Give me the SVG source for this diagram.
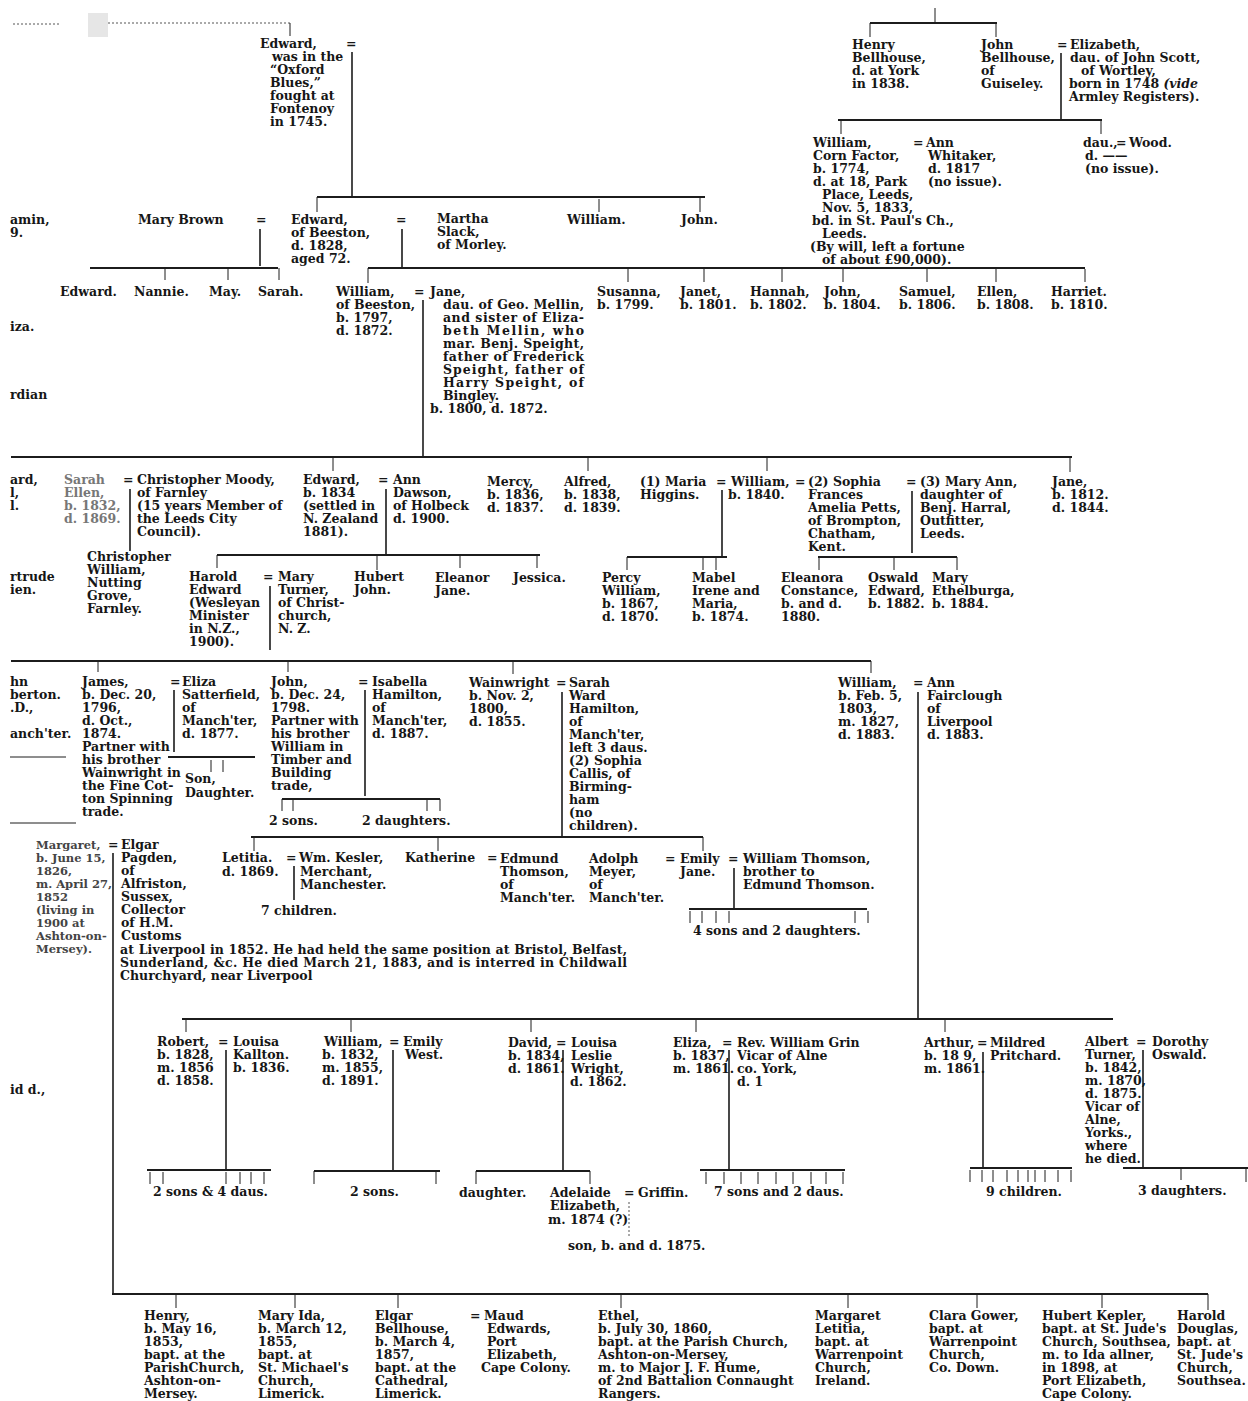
<svg xmlns="http://www.w3.org/2000/svg" width="1248" height="1401" viewBox="0 0 1248 1401">
<style>
text{font-family:"DejaVu Serif","Liberation Serif",serif;font-weight:bold;font-size:12.5px;fill:#161616}
.f{fill:#777}
.sm{font-size:11.5px;fill:#444}
.it{font-style:italic}
.h{stroke:#1c1c1c;stroke-width:2;fill:none}
.v{stroke:#1c1c1c;stroke-width:1.6;fill:none}
.k{stroke:#1c1c1c;stroke-width:1;fill:none}
.d{stroke:#555;stroke-width:1;fill:none;stroke-dasharray:2 2}
</style>
<rect width="1248" height="1401" fill="#fff"/>
<g id="connectors">
<path class="d" d="M13 24H60M88 23H290"/>
<rect x="88" y="13" width="20" height="24" fill="#e6e6e6"/>
<path class="k" d="M290 23V36"/>
<path class="v" d="M352 52V197"/>
<path class="h" d="M317 197H705"/>
<path class="k" d="M317 197V212M599 199V212M700 197V212"/>
<path class="v" d="M260 229V266M402 229V268"/>
<path class="h" d="M90 268H278M368 268H1085"/>
<path class="k" d="M165 268V280M228 268V280M279 268V280M368 268V283M628 269V282M704 269V282M782 269V282M843 269V282M927 269V282M996 269V282M1085 269V282"/>
<path class="k" d="M935 8V23M870 23V37M996 23V37"/>
<path class="h" d="M870 23H997"/>
<path class="v" d="M1061 53V120"/>
<path class="h" d="M838 120H1102"/>
<path class="k" d="M841 120V134M1101 120V134"/>
<path class="v" d="M423 300V457"/>
<path class="h" d="M11 457H1072"/>
<path class="k" d="M333 457V471M588 457V471M767 457V471M1070 457V472"/>
<path class="v" d="M130 489V551M386 489V555M722 490V557M912 491V553M270 586V650"/>
<path class="h" d="M217 555H540M627 557H727M818 557H957"/>
<path class="k" d="M217 555V568M377 555V570M460 555V568M537 555V568M627 557V570M703 557V570M716 557V570M819 557V570M894 557V570M957 557V570"/>
<path class="h" d="M11 661H871"/>
<path class="k" d="M98 661V672M288 661V672M513 661V674M871 661V673"/>
<path class="k" d="M10 757H66M10 823H76"/>
<path class="v" d="M174 690V752M365 690V796M562 692V837M918 692V1019"/>
<path class="h" d="M168 757H255M282 799H440M251 837H703"/>
<path class="k" d="M211 760V772M223 760V772M282 799V811M293 799V811M427 799V811M440 799V811M254 837V851M438 837V851M703 837V851"/>
<path class="v" d="M113 853V1294M294 866V900M734 868V908"/>
<path class="h" d="M689 909H867"/>
<path class="k" d="M690 911V923M702 911V923M716 911V923M729 911V923M855 911V923M868 911V923"/>
<path class="h" d="M182 1019H1113"/>
<path class="k" d="M186 1019V1032M351 1019V1032M531 1019V1032M696 1019V1032M945 1019V1032"/>
<path class="v" d="M226 1050V1170M393 1050V1171M563 1050V1171M729 1050V1170M983 1052V1168M1143 1050V1168"/>
<path class="h" d="M147 1170H271M314 1171H440M476 1171H590M700 1170H845M970 1168H1072M1123 1168H1248"/>
<path class="k" d="M150 1172V1184M163 1172V1184M226 1172V1184M240 1172V1184M251 1172V1184M264 1172V1184M314 1171V1184M436 1171V1184M476 1171V1184M590 1171V1184M706 1172V1184M724 1172V1184M741 1172V1184M758 1172V1184M776 1172V1184M793 1172V1184M811 1172V1184M826 1172V1184M843 1172V1184M970 1170V1182M982 1170V1182M993 1170V1182M1007 1170V1182M1018 1170V1182M1028 1170V1182M1035 1170V1182M1045 1170V1182M1058 1170V1182M1071 1170V1182M1181 1168V1180M1246 1168V1182"/>
<path class="d" d="M629 1202V1236"/>
<path class="h" d="M112 1294H1208"/>
<path class="k" d="M176 1294V1308M295 1294V1308M398 1294V1308M621 1294V1308M848 1294V1308M977 1294V1308M1102 1294V1308M1208 1294V1310"/>
</g>
<g id="edges-left">
<text x="10" y="224">amin,</text><text x="10" y="237">9.</text>
<text x="10" y="331">iza.</text>
<text x="10" y="399">rdian</text>
<text x="10" y="484">ard,</text><text x="10" y="497">l,</text><text x="10" y="510">l.</text>
<text x="10" y="581">rtrude</text><text x="10" y="594">ien.</text>
<text x="10" y="686">hn</text><text x="10" y="699">berton.</text><text x="10" y="712">.D.,</text><text x="10" y="738">anch'ter.</text>
<text x="10" y="1094">id d.,</text>
</g>
<g id="edward-1745"><text><tspan x="260" y="48">Edward,</tspan><tspan x="346" y="48">=</tspan><tspan x="272" y="61">was in the</tspan><tspan x="270" y="74">“Oxford</tspan><tspan x="270" y="87">Blues,”</tspan><tspan x="270" y="100">fought at</tspan><tspan x="270" y="113">Fontenoy</tspan><tspan x="270" y="126">in 1745.</tspan></text></g>
<g id="henry-bellhouse"><text><tspan x="852" y="49">Henry</tspan><tspan x="852" y="62">Bellhouse,</tspan><tspan x="852" y="75">d. at York</tspan><tspan x="852" y="88">in 1838.</tspan></text></g>
<g id="john-bellhouse"><text><tspan x="981" y="49">John</tspan><tspan x="981" y="62">Bellhouse,</tspan><tspan x="981" y="75">of</tspan><tspan x="981" y="88">Guiseley.</tspan></text></g>
<g id="elizabeth-scott"><text><tspan x="1057" y="49">=</tspan><tspan x="1070" y="49">Elizabeth,</tspan><tspan x="1070" y="62">dau. of John Scott,</tspan><tspan x="1081" y="75">of Wortley,</tspan><tspan x="1069" y="88">born in 1748 <tspan class="it">(vide</tspan></tspan><tspan x="1069" y="101">Armley Registers).</tspan></text></g>
<g id="william-corn-factor"><text><tspan x="813" y="147">William,</tspan><tspan x="813" y="160">Corn Factor,</tspan><tspan x="813" y="173">b. 1774,</tspan><tspan x="813" y="186">d. at 18, Park</tspan><tspan x="822" y="199">Place, Leeds,</tspan><tspan x="822" y="212">Nov. 5, 1833,</tspan><tspan x="812" y="225">bd. in St. Paul's Ch.,</tspan><tspan x="822" y="238">Leeds.</tspan><tspan x="810" y="251">(By will, left a fortune</tspan><tspan x="822" y="264">of about £90,000).</tspan></text></g>
<g id="ann-whitaker"><text><tspan x="913" y="147">=</tspan><tspan x="926" y="147">Ann</tspan><tspan x="928" y="160">Whitaker,</tspan><tspan x="928" y="173">d. 1817</tspan><tspan x="928" y="186">(no issue).</tspan></text></g>
<g id="dau-wood"><text><tspan x="1083" y="147">dau.,</tspan><tspan x="1116" y="147">=</tspan><tspan x="1129" y="147">Wood.</tspan><tspan x="1085" y="160">d. ——</tspan><tspan x="1085" y="173">(no issue).</tspan></text></g>
<g id="mary-brown"><text><tspan x="138" y="224">Mary Brown</tspan><tspan x="256" y="224">=</tspan></text></g>
<g id="edward-beeston"><text><tspan x="291" y="224">Edward,</tspan><tspan x="291" y="237">of Beeston,</tspan><tspan x="291" y="250">d. 1828,</tspan><tspan x="291" y="263">aged 72.</tspan><tspan x="396" y="224">=</tspan></text></g>
<g id="martha-slack"><text><tspan x="437" y="223">Martha</tspan><tspan x="437" y="236">Slack,</tspan><tspan x="437" y="249">of Morley.</tspan></text></g>
<g id="william-2"><text x="567" y="224">William.</text></g>
<g id="john-2"><text x="681" y="224">John.</text></g>
<g id="edward-3"><text x="60" y="296">Edward.</text></g>
<g id="nannie"><text x="134" y="296">Nannie.</text></g>
<g id="may"><text x="209" y="296">May.</text></g>
<g id="sarah-3"><text x="258" y="296">Sarah.</text></g>
<g id="william-beeston"><text><tspan x="336" y="296">William,</tspan><tspan x="336" y="309">of Beeston,</tspan><tspan x="336" y="322">b. 1797,</tspan><tspan x="336" y="335">d. 1872.</tspan></text></g>
<g id="jane-mellin">
<text><tspan x="414" y="296">=</tspan><tspan x="430" y="296">Jane,</tspan></text>
<text x="443" y="309" textLength="141" lengthAdjust="spacing">dau. of Geo. Mellin,</text>
<text x="443" y="322" textLength="141" lengthAdjust="spacing">and sister of Eliza-</text>
<text x="443" y="335" textLength="141" lengthAdjust="spacing">beth Mellin, who</text>
<text x="443" y="348" textLength="141" lengthAdjust="spacing">mar. Benj. Speight,</text>
<text x="443" y="361" textLength="141" lengthAdjust="spacing">father of Frederick</text>
<text x="443" y="374" textLength="141" lengthAdjust="spacing">Speight, father of</text>
<text x="443" y="387" textLength="141" lengthAdjust="spacing">Harry Speight, of</text>
<text x="443" y="400">Bingley.</text>
<text x="430" y="413">b. 1800, d. 1872.</text>
</g>
<g id="susanna"><text><tspan x="597" y="296">Susanna,</tspan><tspan x="597" y="309">b. 1799.</tspan></text></g>
<g id="janet"><text><tspan x="680" y="296">Janet,</tspan><tspan x="680" y="309">b. 1801.</tspan></text></g>
<g id="hannah"><text><tspan x="750" y="296">Hannah,</tspan><tspan x="750" y="309">b. 1802.</tspan></text></g>
<g id="john-3"><text><tspan x="824" y="296">John,</tspan><tspan x="824" y="309">b. 1804.</tspan></text></g>
<g id="samuel"><text><tspan x="899" y="296">Samuel,</tspan><tspan x="899" y="309">b. 1806.</tspan></text></g>
<g id="ellen"><text><tspan x="977" y="296">Ellen,</tspan><tspan x="977" y="309">b. 1808.</tspan></text></g>
<g id="harriet"><text><tspan x="1051" y="296">Harriet.</tspan><tspan x="1051" y="309">b. 1810.</tspan></text></g>
<g id="sarah-ellen"><text class="f"><tspan x="64" y="484">Sarah</tspan><tspan x="64" y="497">Ellen,</tspan><tspan x="64" y="510">b. 1832,</tspan><tspan x="64" y="523">d. 1869.</tspan></text></g>
<g id="christopher-moody"><text><tspan x="123" y="484">=</tspan><tspan x="137" y="484">Christopher Moody,</tspan><tspan x="137" y="497">of Farnley</tspan><tspan x="137" y="510">(15 years Member of</tspan><tspan x="137" y="523">the Leeds City</tspan><tspan x="137" y="536">Council).</tspan></text></g>
<g id="christopher-william"><text><tspan x="87" y="561">Christopher</tspan><tspan x="87" y="574">William,</tspan><tspan x="87" y="587">Nutting</tspan><tspan x="87" y="600">Grove,</tspan><tspan x="87" y="613">Farnley.</tspan></text></g>
<g id="edward-1834"><text><tspan x="303" y="484">Edward,</tspan><tspan x="303" y="497">b. 1834</tspan><tspan x="303" y="510">(settled in</tspan><tspan x="303" y="523">N. Zealand</tspan><tspan x="303" y="536">1881).</tspan></text></g>
<g id="ann-dawson"><text><tspan x="378" y="484">=</tspan><tspan x="393" y="484">Ann</tspan><tspan x="393" y="497">Dawson,</tspan><tspan x="393" y="510">of Holbeck</tspan><tspan x="393" y="523">d. 1900.</tspan></text></g>
<g id="mercy"><text><tspan x="487" y="486">Mercy,</tspan><tspan x="487" y="499">b. 1836,</tspan><tspan x="487" y="512">d. 1837.</tspan></text></g>
<g id="alfred"><text><tspan x="564" y="486">Alfred,</tspan><tspan x="564" y="499">b. 1838,</tspan><tspan x="564" y="512">d. 1839.</tspan></text></g>
<g id="maria-higgins"><text><tspan x="640" y="486">(1) Maria</tspan><tspan x="640" y="499">Higgins.</tspan></text></g>
<g id="william-1840"><text><tspan x="716" y="486">=</tspan><tspan x="731" y="486">William,</tspan><tspan x="795" y="486">=</tspan><tspan x="728" y="499">b. 1840.</tspan></text></g>
<g id="sophia-petts"><text><tspan x="808" y="486">(2) Sophia</tspan><tspan x="808" y="499">Frances</tspan><tspan x="808" y="512">Amelia Petts,</tspan><tspan x="808" y="525">of Brompton,</tspan><tspan x="808" y="538">Chatham,</tspan><tspan x="808" y="551">Kent.</tspan></text></g>
<g id="mary-ann-harral"><text><tspan x="906" y="486">=</tspan><tspan x="920" y="486">(3) Mary Ann,</tspan><tspan x="920" y="499">daughter of</tspan><tspan x="920" y="512">Benj. Harral,</tspan><tspan x="920" y="525">Outfitter,</tspan><tspan x="920" y="538">Leeds.</tspan></text></g>
<g id="jane-1812"><text><tspan x="1052" y="486">Jane,</tspan><tspan x="1052" y="499">b. 1812.</tspan><tspan x="1052" y="512">d. 1844.</tspan></text></g>
<g id="harold-edward"><text><tspan x="189" y="581">Harold</tspan><tspan x="189" y="594">Edward</tspan><tspan x="189" y="607">(Wesleyan</tspan><tspan x="189" y="620">Minister</tspan><tspan x="189" y="633">in N.Z.,</tspan><tspan x="189" y="646">1900).</tspan></text></g>
<g id="mary-turner"><text><tspan x="263" y="581">=</tspan><tspan x="278" y="581">Mary</tspan><tspan x="278" y="594">Turner,</tspan><tspan x="278" y="607">of Christ-</tspan><tspan x="278" y="620">church,</tspan><tspan x="278" y="633">N. Z.</tspan></text></g>
<g id="hubert-john"><text><tspan x="354" y="581">Hubert</tspan><tspan x="354" y="594">John.</tspan></text></g>
<g id="eleanor-jane"><text><tspan x="435" y="582">Eleanor</tspan><tspan x="435" y="595">Jane.</tspan></text></g>
<g id="jessica"><text x="513" y="582">Jessica.</text></g>
<g id="percy-william"><text><tspan x="602" y="582">Percy</tspan><tspan x="602" y="595">William,</tspan><tspan x="602" y="608">b. 1867,</tspan><tspan x="602" y="621">d. 1870.</tspan></text></g>
<g id="mabel-maria"><text><tspan x="692" y="582">Mabel</tspan><tspan x="692" y="595">Irene and</tspan><tspan x="692" y="608">Maria,</tspan><tspan x="692" y="621">b. 1874.</tspan></text></g>
<g id="eleanora"><text><tspan x="781" y="582">Eleanora</tspan><tspan x="781" y="595">Constance,</tspan><tspan x="781" y="608">b. and d.</tspan><tspan x="781" y="621">1880.</tspan></text></g>
<g id="oswald-edward"><text><tspan x="868" y="582">Oswald</tspan><tspan x="868" y="595">Edward,</tspan><tspan x="868" y="608">b. 1882.</tspan></text></g>
<g id="mary-ethelburga"><text><tspan x="932" y="582">Mary</tspan><tspan x="932" y="595">Ethelburga,</tspan><tspan x="932" y="608">b. 1884.</tspan></text></g>
<g id="james"><text><tspan x="82" y="686">James,</tspan><tspan x="82" y="699">b. Dec. 20,</tspan><tspan x="82" y="712">1796,</tspan><tspan x="82" y="725">d. Oct.,</tspan><tspan x="82" y="738">1874.</tspan><tspan x="82" y="751">Partner with</tspan><tspan x="82" y="764">his brother</tspan><tspan x="82" y="777">Wainwright in</tspan><tspan x="82" y="790">the Fine Cot-</tspan><tspan x="82" y="803">ton Spinning</tspan><tspan x="82" y="816">trade.</tspan></text></g>
<g id="eliza-satterfield"><text><tspan x="170" y="686">=</tspan><tspan x="182" y="686">Eliza</tspan><tspan x="182" y="699">Satterfield,</tspan><tspan x="182" y="712">of</tspan><tspan x="182" y="725">Manch'ter,</tspan><tspan x="182" y="738">d. 1877.</tspan></text></g>
<g id="son-daughter"><text><tspan x="185" y="783">Son,</tspan><tspan x="185" y="797">Daughter.</tspan></text></g>
<g id="john-1798"><text><tspan x="271" y="686">John,</tspan><tspan x="271" y="699">b. Dec. 24,</tspan><tspan x="271" y="712">1798.</tspan><tspan x="271" y="725">Partner with</tspan><tspan x="271" y="738">his brother</tspan><tspan x="271" y="751">William in</tspan><tspan x="271" y="764">Timber and</tspan><tspan x="271" y="777">Building</tspan><tspan x="271" y="790">trade,</tspan></text></g>
<g id="isabella-hamilton"><text><tspan x="358" y="686">=</tspan><tspan x="372" y="686">Isabella</tspan><tspan x="372" y="699">Hamilton,</tspan><tspan x="372" y="712">of</tspan><tspan x="372" y="725">Manch'ter,</tspan><tspan x="372" y="738">d. 1887.</tspan></text></g>
<g id="two-sons"><text x="269" y="825">2 sons.</text></g>
<g id="two-daughters"><text x="362" y="825">2 daughters.</text></g>
<g id="wainwright"><text><tspan x="469" y="687">Wainwright</tspan><tspan x="469" y="700">b. Nov. 2,</tspan><tspan x="469" y="713">1800,</tspan><tspan x="469" y="726">d. 1855.</tspan></text></g>
<g id="sarah-ward-hamilton"><text><tspan x="556" y="687">=</tspan><tspan x="569" y="687">Sarah</tspan><tspan x="569" y="700">Ward</tspan><tspan x="569" y="713">Hamilton,</tspan><tspan x="569" y="726">of</tspan><tspan x="569" y="739">Manch'ter,</tspan><tspan x="569" y="752">left 3 daus.</tspan><tspan x="569" y="765">(2) Sophia</tspan><tspan x="569" y="778">Callis, of</tspan><tspan x="569" y="791">Birming-</tspan><tspan x="569" y="804">ham</tspan><tspan x="569" y="817">(no</tspan><tspan x="569" y="830">children).</tspan></text></g>
<g id="william-1803"><text><tspan x="838" y="687">William,</tspan><tspan x="838" y="700">b. Feb. 5,</tspan><tspan x="838" y="713">1803,</tspan><tspan x="838" y="726">m. 1827,</tspan><tspan x="838" y="739">d. 1883.</tspan></text></g>
<g id="ann-fairclough"><text><tspan x="913" y="687">=</tspan><tspan x="927" y="687">Ann</tspan><tspan x="927" y="700">Fairclough</tspan><tspan x="927" y="713">of</tspan><tspan x="927" y="726">Liverpool</tspan><tspan x="927" y="739">d. 1883.</tspan></text></g>
<g id="margaret-1826"><text class="sm"><tspan x="36" y="849">Margaret,</tspan><tspan x="36" y="862">b. June 15,</tspan><tspan x="36" y="875">1826,</tspan><tspan x="36" y="888">m. April 27,</tspan><tspan x="36" y="901">1852</tspan><tspan x="36" y="914">(living in</tspan><tspan x="36" y="927">1900 at</tspan><tspan x="36" y="940">Ashton-on-</tspan><tspan x="36" y="953">Mersey).</tspan></text></g>
<g id="elgar-pagden">
<text><tspan x="108" y="849">=</tspan><tspan x="121" y="849">Elgar</tspan><tspan x="121" y="862">Pagden,</tspan><tspan x="121" y="875">of</tspan><tspan x="121" y="888">Alfriston,</tspan><tspan x="121" y="901">Sussex,</tspan><tspan x="121" y="914">Collector</tspan><tspan x="121" y="927">of H.M.</tspan><tspan x="121" y="940">Customs</tspan></text>
<text x="120" y="954" textLength="507" lengthAdjust="spacing">at Liverpool in 1852.  He had held the same position at Bristol, Belfast,</text>
<text x="120" y="967" textLength="507" lengthAdjust="spacing">Sunderland, &amp;c.  He died March 21, 1883, and is interred in Childwall</text>
<text x="120" y="980">Churchyard, near Liverpool</text>
</g>
<g id="letitia"><text><tspan x="222" y="862">Letitia.</tspan><tspan x="222" y="876">d. 1869.</tspan></text></g>
<g id="wm-kesler"><text><tspan x="286" y="862">=</tspan><tspan x="299" y="862">Wm. Kesler,</tspan><tspan x="300" y="876">Merchant,</tspan><tspan x="300" y="889">Manchester.</tspan></text></g>
<g id="seven-children"><text x="261" y="915">7 children.</text></g>
<g id="katherine"><text x="405" y="862">Katherine</text></g>
<g id="edmund-thomson"><text><tspan x="487" y="862">=</tspan><tspan x="500" y="863">Edmund</tspan><tspan x="500" y="876">Thomson,</tspan><tspan x="500" y="889">of</tspan><tspan x="500" y="902">Manch'ter.</tspan></text></g>
<g id="adolph-meyer"><text><tspan x="589" y="863">Adolph</tspan><tspan x="589" y="876">Meyer,</tspan><tspan x="589" y="889">of</tspan><tspan x="589" y="902">Manch'ter.</tspan></text></g>
<g id="emily-jane"><text><tspan x="665" y="863">=</tspan><tspan x="680" y="863">Emily</tspan><tspan x="680" y="876">Jane.</tspan></text></g>
<g id="william-thomson"><text><tspan x="728" y="863">=</tspan><tspan x="743" y="863">William Thomson,</tspan><tspan x="743" y="876">brother to</tspan><tspan x="743" y="889">Edmund Thomson.</tspan></text></g>
<g id="four-sons"><text x="693" y="935">4 sons and 2 daughters.</text></g>
<g id="robert"><text><tspan x="157" y="1046">Robert,</tspan><tspan x="157" y="1059">b. 1828,</tspan><tspan x="157" y="1072">m. 1856</tspan><tspan x="157" y="1085">d. 1858.</tspan></text></g>
<g id="louisa-kallton"><text><tspan x="218" y="1046">=</tspan><tspan x="233" y="1046">Louisa</tspan><tspan x="233" y="1059">Kallton.</tspan><tspan x="233" y="1072">b. 1836.</tspan></text></g>
<g id="robert-children"><text x="153" y="1196">2 sons &amp; 4 daus.</text></g>
<g id="william-1832"><text><tspan x="324" y="1046">William,</tspan><tspan x="322" y="1059">b. 1832,</tspan><tspan x="322" y="1072">m. 1855,</tspan><tspan x="322" y="1085">d. 1891.</tspan></text></g>
<g id="emily-west"><text><tspan x="389" y="1046">=</tspan><tspan x="403" y="1046">Emily</tspan><tspan x="405" y="1059">West.</tspan></text></g>
<g id="william-children"><text x="350" y="1196">2 sons.</text></g>
<g id="david"><text><tspan x="508" y="1047">David,</tspan><tspan x="508" y="1060">b. 1834,</tspan><tspan x="508" y="1073">d. 1861.</tspan></text></g>
<g id="louisa-wright"><text><tspan x="556" y="1047">=</tspan><tspan x="571" y="1047">Louisa</tspan><tspan x="571" y="1060">Leslie</tspan><tspan x="571" y="1073">Wright,</tspan><tspan x="570" y="1086">d. 1862.</tspan></text></g>
<g id="daughter"><text x="459" y="1197">daughter.</text></g>
<g id="adelaide"><text><tspan x="550" y="1197">Adelaide</tspan><tspan x="550" y="1210">Elizabeth,</tspan><tspan x="548" y="1224">m. 1874 (?)</tspan></text></g>
<g id="griffin"><text><tspan x="624" y="1197">=</tspan><tspan x="638" y="1197">Griffin.</tspan></text></g>
<g id="son-1875"><text x="568" y="1250">son, b. and d. 1875.</text></g>
<g id="eliza-1837"><text><tspan x="673" y="1047">Eliza,</tspan><tspan x="673" y="1060">b. 1837,</tspan><tspan x="673" y="1073">m. 1861.</tspan></text></g>
<g id="rev-william-grin"><text><tspan x="722" y="1047">=</tspan><tspan x="737" y="1047">Rev. William Grin</tspan><tspan x="737" y="1060">Vicar of Alne</tspan><tspan x="737" y="1073">co. York,</tspan><tspan x="737" y="1086">d. 1</tspan></text></g>
<g id="eliza-children"><text x="714" y="1196">7 sons and 2 daus.</text></g>
<g id="arthur"><text><tspan x="924" y="1047">Arthur,</tspan><tspan x="924" y="1060">b. 18 9,</tspan><tspan x="924" y="1073">m. 1861.</tspan></text></g>
<g id="mildred-pritchard"><text><tspan x="977" y="1047">=</tspan><tspan x="990" y="1047">Mildred</tspan><tspan x="990" y="1060">Pritchard.</tspan></text></g>
<g id="arthur-children"><text x="986" y="1196">9 children.</text></g>
<g id="albert-turner"><text><tspan x="1085" y="1046">Albert</tspan><tspan x="1085" y="1059">Turner,</tspan><tspan x="1085" y="1072">b. 1842,</tspan><tspan x="1085" y="1085">m. 1870,</tspan><tspan x="1085" y="1098">d. 1875.</tspan><tspan x="1085" y="1111">Vicar of</tspan><tspan x="1085" y="1124">Alne,</tspan><tspan x="1085" y="1137">Yorks.,</tspan><tspan x="1085" y="1150">where</tspan><tspan x="1085" y="1163">he died.</tspan></text></g>
<g id="dorothy-oswald"><text><tspan x="1136" y="1046">=</tspan><tspan x="1152" y="1046">Dorothy</tspan><tspan x="1152" y="1059">Oswald.</tspan></text></g>
<g id="albert-children"><text x="1138" y="1195">3 daughters.</text></g>
<g id="henry-1853"><text><tspan x="144" y="1320">Henry,</tspan><tspan x="144" y="1333">b. May 16,</tspan><tspan x="144" y="1346">1853,</tspan><tspan x="144" y="1359">bapt. at the</tspan><tspan x="144" y="1372">ParishChurch,</tspan><tspan x="144" y="1385">Ashton-on-</tspan><tspan x="144" y="1398">Mersey.</tspan></text></g>
<g id="mary-ida"><text><tspan x="258" y="1320">Mary Ida,</tspan><tspan x="258" y="1333">b. March 12,</tspan><tspan x="258" y="1346">1855,</tspan><tspan x="258" y="1359">bapt. at</tspan><tspan x="258" y="1372">St. Michael's</tspan><tspan x="258" y="1385">Church,</tspan><tspan x="258" y="1398">Limerick.</tspan></text></g>
<g id="elgar-bellhouse"><text><tspan x="375" y="1320">Elgar</tspan><tspan x="375" y="1333">Bellhouse,</tspan><tspan x="375" y="1346">b. March 4,</tspan><tspan x="375" y="1359">1857,</tspan><tspan x="375" y="1372">bapt. at the</tspan><tspan x="375" y="1385">Cathedral,</tspan><tspan x="375" y="1398">Limerick.</tspan></text></g>
<g id="maud-edwards"><text><tspan x="470" y="1320">=</tspan><tspan x="484" y="1320">Maud</tspan><tspan x="487" y="1333">Edwards,</tspan><tspan x="487" y="1346">Port</tspan><tspan x="487" y="1359">Elizabeth,</tspan><tspan x="481" y="1372">Cape Colony.</tspan></text></g>
<g id="ethel"><text><tspan x="598" y="1320">Ethel,</tspan><tspan x="598" y="1333">b. July 30, 1860,</tspan><tspan x="598" y="1346">bapt. at the Parish Church,</tspan><tspan x="598" y="1359">Ashton-on-Mersey,</tspan><tspan x="598" y="1372">m. to Major J. F. Hume,</tspan><tspan x="598" y="1385">of 2nd Battalion Connaught</tspan><tspan x="598" y="1398">Rangers.</tspan></text></g>
<g id="margaret-letitia"><text><tspan x="815" y="1320">Margaret</tspan><tspan x="815" y="1333">Letitia,</tspan><tspan x="815" y="1346">bapt. at</tspan><tspan x="815" y="1359">Warrenpoint</tspan><tspan x="815" y="1372">Church,</tspan><tspan x="815" y="1385">Ireland.</tspan></text></g>
<g id="clara-gower"><text><tspan x="929" y="1320">Clara Gower,</tspan><tspan x="929" y="1333">bapt. at</tspan><tspan x="929" y="1346">Warrenpoint</tspan><tspan x="929" y="1359">Church,</tspan><tspan x="929" y="1372">Co. Down.</tspan></text></g>
<g id="hubert-kepler"><text><tspan x="1042" y="1320">Hubert Kepler,</tspan><tspan x="1042" y="1333">bapt. at St. Jude's</tspan><tspan x="1042" y="1346">Church, Southsea,</tspan><tspan x="1042" y="1359">m. to Ida  allner,</tspan><tspan x="1042" y="1372">in 1898, at</tspan><tspan x="1042" y="1385">Port Elizabeth,</tspan><tspan x="1042" y="1398">Cape Colony.</tspan></text></g>
<g id="harold-douglas"><text><tspan x="1177" y="1320">Harold</tspan><tspan x="1177" y="1333">Douglas,</tspan><tspan x="1177" y="1346">bapt. at</tspan><tspan x="1177" y="1359">St. Jude's</tspan><tspan x="1177" y="1372">Church,</tspan><tspan x="1177" y="1385">Southsea.</tspan></text></g>
</svg>
